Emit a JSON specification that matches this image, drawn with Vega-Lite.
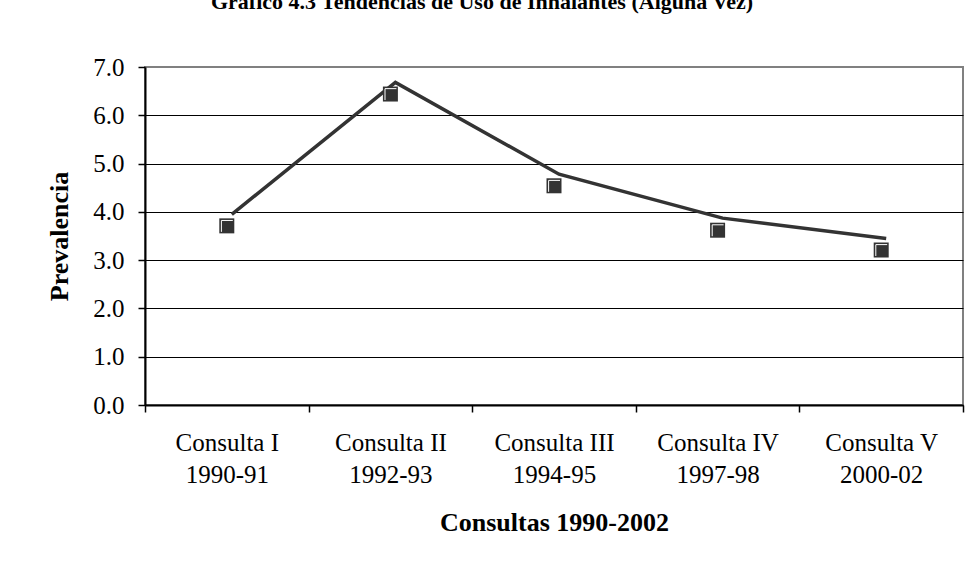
{
  "$schema": "https://vega.github.io/schema/vega-lite/v6.json",
  "autosize": "none",
  "width": 818,
  "height": 338,
  "padding": {"left": 145, "top": 67, "right": 17, "bottom": 169},
  "background": "white",
  "title": {
    "text": "Gráfico 4.3 Tendencias de Uso de Inhalantes (Alguna Vez)",
    "font": "Liberation Serif",
    "fontSize": 22,
    "fontWeight": "bold",
    "color": "black",
    "anchor": "middle",
    "dx": -72,
    "offset": 41
  },
  "config": {
    "view": {"stroke": "#808080", "strokeWidth": 2},
    "axis": {
      "labelFont": "Liberation Serif",
      "labelFontSize": 25,
      "labelColor": "black",
      "titleFont": "Liberation Serif",
      "titleFontSize": 26,
      "titleFontWeight": "bold",
      "titleColor": "black",
      "domainColor": "black",
      "domainWidth": 2,
      "tickColor": "black",
      "tickWidth": 1.5,
      "tickSize": 7
    }
  },
  "data": {
    "values": [
      {"consulta": "Consulta I|1990-91", "prevalencia": 3.71, "tendencia": 3.95},
      {"consulta": "Consulta II|1992-93", "prevalencia": 6.44, "tendencia": 6.68},
      {"consulta": "Consulta III|1994-95", "prevalencia": 4.54, "tendencia": 4.78},
      {"consulta": "Consulta IV|1997-98", "prevalencia": 3.62, "tendencia": 3.87},
      {"consulta": "Consulta V|2000-02", "prevalencia": 3.21, "tendencia": 3.45}
    ]
  },
  "encoding": {
    "x": {
      "field": "consulta",
      "type": "nominal",
      "sort": null,
      "scale": {"type": "band", "paddingInner": 0, "paddingOuter": 0},
      "axis": {
        "title": "Consultas 1990-2002",
        "labelAngle": 0,
        "labelExpr": "split(datum.label, '|')",
        "labelLineHeight": 32,
        "labelPadding": 18,
        "tickBand": "extent",
        "titlePadding": 22,
        "grid": false
      }
    }
  },
  "layer": [
    {
      "mark": {"type": "line", "color": "#333333", "strokeWidth": 3.5, "xOffset": 5},
      "encoding": {
        "y": {
          "field": "tendencia",
          "type": "quantitative",
          "scale": {"domain": [0, 7], "nice": false},
          "axis": {
            "title": "Prevalencia",
            "values": [0, 1, 2, 3, 4, 5, 6, 7],
            "format": ".1f",
            "labelPadding": 14,
            "titlePadding": 20,
            "grid": true,
            "gridColor": {"condition": {"test": "datum.value == 7", "value": "#808080"}, "value": "black"},
            "gridWidth": 1.2
          }
        }
      }
    },
    {
      "mark": {"type": "point", "shape": "square", "filled": true, "size": 225, "color": "#333333", "opacity": 1},
      "encoding": {
        "y": {"field": "prevalencia", "type": "quantitative"}
      }
    },
    {
      "mark": {"type": "point", "shape": "M -0.72 0.8 L -0.72 -0.72 L 0.8 -0.72", "filled": false, "size": 225, "stroke": "white", "strokeWidth": 1, "opacity": 1},
      "encoding": {
        "y": {"field": "prevalencia", "type": "quantitative"}
      }
    }
  ]
}
